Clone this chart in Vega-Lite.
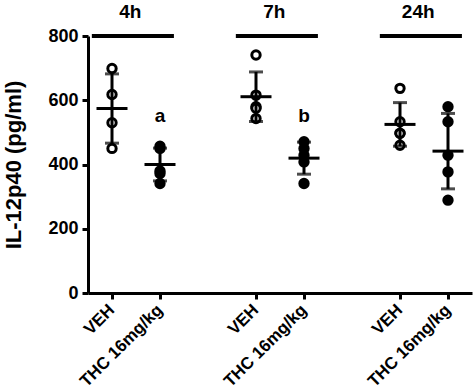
{
  "$schema": "https://vega.github.io/schema/vega-lite/v6.json",
  "width": 384,
  "height": 257,
  "autosize": "none",
  "padding": {"left": 88, "top": 36, "right": 2, "bottom": 99},
  "background": "white",
  "config": {
    "view": {"stroke": null},
    "font": "Liberation Sans",
    "axis": {"grid": false}
  },
  "datasets": {
    "points": [
      {"group": "4h VEH", "treatment": "VEH", "value": 699},
      {"group": "4h VEH", "treatment": "VEH", "value": 618},
      {"group": "4h VEH", "treatment": "VEH", "value": 530},
      {"group": "4h VEH", "treatment": "VEH", "value": 450},
      {"group": "4h THC 16mg/kg", "treatment": "THC 16mg/kg", "value": 457},
      {"group": "4h THC 16mg/kg", "treatment": "THC 16mg/kg", "value": 450},
      {"group": "4h THC 16mg/kg", "treatment": "THC 16mg/kg", "value": 380},
      {"group": "4h THC 16mg/kg", "treatment": "THC 16mg/kg", "value": 372},
      {"group": "4h THC 16mg/kg", "treatment": "THC 16mg/kg", "value": 341},
      {"group": "7h VEH", "treatment": "VEH", "value": 741},
      {"group": "7h VEH", "treatment": "VEH", "value": 616},
      {"group": "7h VEH", "treatment": "VEH", "value": 580},
      {"group": "7h VEH", "treatment": "VEH", "value": 575},
      {"group": "7h VEH", "treatment": "VEH", "value": 543},
      {"group": "7h THC 16mg/kg", "treatment": "THC 16mg/kg", "value": 471},
      {"group": "7h THC 16mg/kg", "treatment": "THC 16mg/kg", "value": 450},
      {"group": "7h THC 16mg/kg", "treatment": "THC 16mg/kg", "value": 429},
      {"group": "7h THC 16mg/kg", "treatment": "THC 16mg/kg", "value": 408},
      {"group": "7h THC 16mg/kg", "treatment": "THC 16mg/kg", "value": 341},
      {"group": "24h VEH", "treatment": "VEH", "value": 637},
      {"group": "24h VEH", "treatment": "VEH", "value": 533},
      {"group": "24h VEH", "treatment": "VEH", "value": 497},
      {"group": "24h VEH", "treatment": "VEH", "value": 497},
      {"group": "24h VEH", "treatment": "VEH", "value": 460},
      {"group": "24h THC 16mg/kg", "treatment": "THC 16mg/kg", "value": 580},
      {"group": "24h THC 16mg/kg", "treatment": "THC 16mg/kg", "value": 533},
      {"group": "24h THC 16mg/kg", "treatment": "THC 16mg/kg", "value": 429},
      {"group": "24h THC 16mg/kg", "treatment": "THC 16mg/kg", "value": 377},
      {"group": "24h THC 16mg/kg", "treatment": "THC 16mg/kg", "value": 289}
    ],
    "times": [
      {"label": "4h", "start": "4h VEH", "end": "4h THC 16mg/kg"},
      {"label": "7h", "start": "7h VEH", "end": "7h THC 16mg/kg"},
      {"label": "24h", "start": "24h VEH", "end": "24h THC 16mg/kg"}
    ],
    "letters": [
      {"group": "4h THC 16mg/kg", "letter": "a"},
      {"group": "7h THC 16mg/kg", "letter": "b"}
    ]
  },
  "layer": [
    {
      "data": {"name": "points"},
      "mark": {"type": "point", "shape": "circle", "stroke": "black", "strokeWidth": 3, "size": 70, "opacity": 1},
      "encoding": {
        "x": {"field": "group", "type": "nominal"},
        "y": {"field": "value", "type": "quantitative"},
        "fill": {"field": "treatment", "type": "nominal", "scale": {"domain": ["VEH", "THC 16mg/kg"], "range": ["white", "black"]}, "legend": null}
      }
    },
    {
      "data": {"name": "points"},
      "mark": {"type": "errorbar", "extent": "stdev", "color": "black", "thickness": 3, "ticks": {"size": 14, "thickness": 3, "color": "black"}},
      "encoding": {
        "x": {"field": "group", "type": "nominal"},
        "y": {"field": "value", "type": "quantitative"}
      }
    },
    {
      "data": {"name": "points"},
      "mark": {"type": "tick", "color": "black", "size": 31, "thickness": 3, "opacity": 1},
      "encoding": {
        "x": {"field": "group", "type": "nominal"},
        "y": {"field": "value", "type": "quantitative", "aggregate": "mean"}
      }
    },
    {
      "data": {"name": "times"},
      "mark": {"type": "rule", "color": "black", "strokeWidth": 4},
      "encoding": {
        "x": {"field": "start", "type": "nominal", "bandPosition": 0.08},
        "x2": {"field": "end", "bandPosition": 0.79},
        "y": {"datum": 800, "type": "quantitative"}
      }
    },
    {
      "data": {"name": "times"},
      "mark": {"type": "text", "font": "Liberation Sans", "fontWeight": "bold", "fontSize": 19, "color": "black", "baseline": "alphabetic", "align": "center", "dy": -18},
      "encoding": {
        "x": {"field": "start", "type": "nominal", "bandPosition": 0.88},
        "y": {"datum": 800, "type": "quantitative"},
        "text": {"field": "label"}
      }
    },
    {
      "data": {"name": "letters"},
      "mark": {"type": "text", "font": "Liberation Sans", "fontWeight": "bold", "fontSize": 19, "color": "black", "baseline": "alphabetic", "align": "center"},
      "encoding": {
        "x": {"field": "group", "type": "nominal"},
        "y": {"datum": 533, "type": "quantitative"},
        "text": {"field": "letter"}
      }
    }
  ],
  "resolve": {"scale": {"x": "shared", "y": "shared"}},
  "encoding": {
    "x": {
      "field": "group",
      "type": "nominal",
      "scale": {
        "type": "band",
        "domain": ["4h VEH", "4h THC 16mg/kg", "gap1", "7h VEH", "7h THC 16mg/kg", "gap2", "24h VEH", "24h THC 16mg/kg"],
        "paddingInner": 0,
        "paddingOuter": 0
      },
      "axis": {
        "title": null,
        "values": ["4h VEH", "4h THC 16mg/kg", "7h VEH", "7h THC 16mg/kg", "24h VEH", "24h THC 16mg/kg"],
        "labelExpr": "test(/VEH/, datum.value) ? 'VEH' : 'THC 16mg/kg'",
        "labelAngle": -45,
        "labelAlign": "right",
        "labelBaseline": "middle",
        "labelFontSize": 17,
        "labelFontWeight": "bold",
        "labelColor": "black",
        "labelPadding": 8,
        "domainColor": "black",
        "domainWidth": 3,
        "tickColor": "black",
        "tickWidth": 3,
        "tickSize": 6
      }
    },
    "y": {
      "type": "quantitative",
      "scale": {"domain": [0, 800], "nice": false},
      "axis": {
        "title": "IL-12p40 (pg/ml)",
        "titleFontSize": 22,
        "titleFontWeight": "bold",
        "titleColor": "black",
        "titlePadding": 22,
        "values": [0, 200, 400, 600, 800],
        "labelFontSize": 18,
        "labelFontWeight": "bold",
        "labelColor": "black",
        "labelPadding": 4,
        "domainColor": "black",
        "domainWidth": 3,
        "tickColor": "black",
        "tickWidth": 3,
        "tickSize": 6
      }
    }
  }
}
